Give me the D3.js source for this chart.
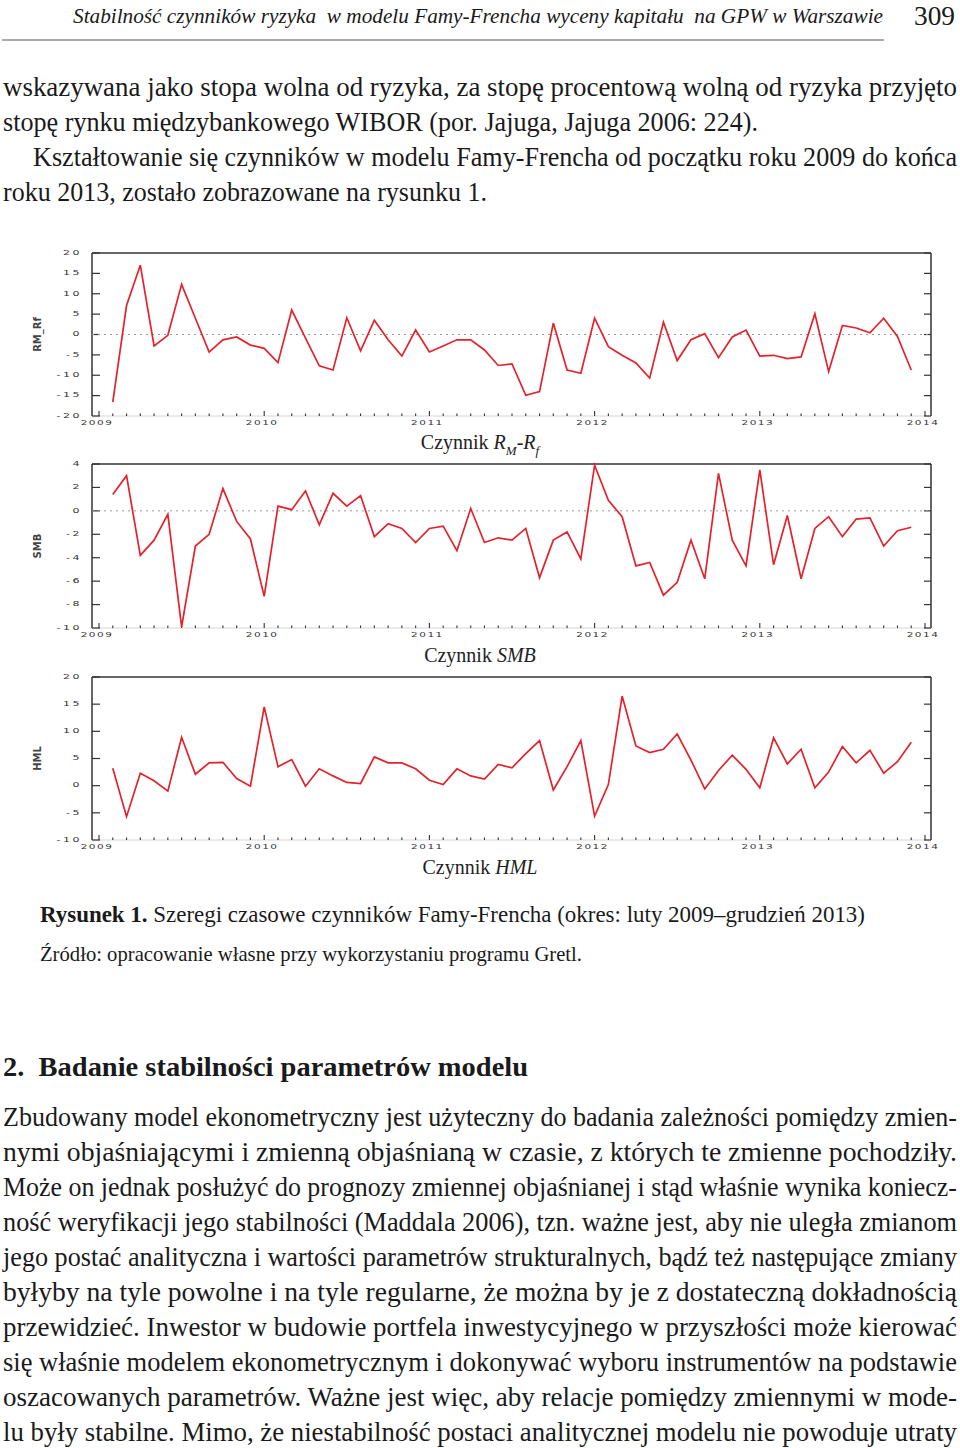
<!DOCTYPE html>
<html><head><meta charset="utf-8">
<script src="https://cdn.jsdelivr.net/npm/d3@7"></script>
<style>body{margin:0;background:#fff} svg{display:block} .serif{font-family:"Liberation Serif","Times New Roman",Times,serif}</style>
</head><body>
<script>
// ---- data (Feb 2009 – Dec 2013, monthly) ----
const startYear = 2009, startMonth = 2;
const rmrf = [
  -16.6, 7.1, 17.0, -2.8, -0.2, 12.3, 4.0, -4.3, -1.3, -0.6, -2.6,
  -3.4, -6.9, 6.0, -0.9, -7.7, -8.7, 4.1, -4.0, 3.5, -1.3, -5.3, 1.1,
  -4.3, -2.8, -1.3, -1.3, -3.8, -7.6, -7.2, -14.9, -14.0, 2.8, -8.7, -9.5,
  4.0, -3.0, -5.1, -7.0, -10.7, 3.0, -6.4, -1.3, 0.2, -5.7, -0.6, 1.1,
  -5.3, -5.1, -5.9, -5.5, 5.1, -9.1, 2.2, 1.6, 0.4, 4.0, -0.5, -8.7
];
const smb = [
  1.4, 3.0, -3.8, -2.5, -0.3, -9.9, -3.0, -2.0, 1.9, -0.9, -2.4,
  -7.3, 0.4, 0.1, 1.7, -1.2, 1.5, 0.4, 1.3, -2.2, -1.1, -1.5, -2.7,
  -1.5, -1.3, -3.4, 0.2, -2.7, -2.3, -2.5, -1.5, -5.7, -2.5, -1.8, -4.1,
  3.9, 0.9, -0.5, -4.7, -4.4, -7.2, -6.1, -2.5, -5.8, 3.2, -2.5, -4.7,
  3.5, -4.6, -0.4, -5.8, -1.5, -0.5, -2.2, -0.7, -0.6, -3.0, -1.7, -1.4
];
const hml = [
  3.2, -5.7, 2.3, 0.9, -1.0, 8.9, 2.1, 4.2, 4.3, 1.3, -0.1,
  14.5, 3.5, 4.8, -0.1, 3.1, 1.8, 0.6, 0.4, 5.3, 4.2, 4.2, 3.1,
  1.0, 0.2, 3.1, 1.8, 1.2, 3.9, 3.3, 5.9, 8.3, -0.8, 3.5, 8.3,
  -5.6, 0.2, 16.5, 7.3, 6.1, 6.7, 9.5, 4.7, -0.6, 2.8, 5.6, 3.0,
  -0.4, 8.8, 4.0, 6.7, -0.4, 2.5, 7.2, 4.2, 6.5, 2.3, 4.4, 8.0
];
const yearTicks = [2009, 2010, 2011, 2012, 2013, 2014];
const rmrfTicks = [20, 15, 10, 5, 0, -5, -10, -15, -20];
const smbTicks = [4, 2, 0, -2, -4, -6, -8, -10];
const hmlTicks = [20, 15, 10, 5, 0, -5, -10];

const svg = d3.select("body").append("svg").attr("width", 960).attr("height", 1448);

// text line: natural-size font, stretched vertically by sy, justified to len
function txt(parts, x, y, size, len, sy) {
  const t = svg.append("text").attr("class", "serif").attr("x", 0).attr("y", 0)
    .attr("transform", `translate(${x},${y}) scale(1,${sy || 1})`)
    .attr("font-size", size).attr("fill", "#1a1a1a").attr("xml:space", "preserve");
  if (len) t.attr("textLength", len).attr("lengthAdjust", "spacingAndGlyphs");
  parts.forEach(p => {
    const s = t.append("tspan").text(typeof p === "string" ? p : p.t);
    if (typeof p !== "string") {
      if (p.b) s.attr("font-weight", "bold");
      if (p.i) s.attr("font-style", "italic");
    }
  });
  return t;
}

// ---- header ----
txt([{t: "Stabilność czynników ryzyka\u00a0 w modelu Famy-Frencha wyceny kapitału\u00a0 na GPW w Warszawie", i: true}], 73, 23, 20, 810, 1.1);
txt(["309"], 914, 25, 27, 41, 1);
svg.append("line").attr("x1", 2).attr("x2", 884).attr("y1", 40).attr("y2", 40).attr("stroke", "#555").attr("stroke-width", 1.2);

// ---- body text above ----
const L = 35;
const BODY = 24.5, SY = 1.1;
txt(["wskazywana jako stopa wolna od ryzyka, za stopę procentową wolną od ryzyka przyjęto"], 3, 96, BODY, 954, SY);
txt(["stopę rynku międzybankowego WIBOR (por. Jajuga, Jajuga 2006: 224)."], 3, 131, BODY, 755, SY);
txt(["Kształtowanie się czynników w modelu Famy-Frencha od początku roku 2009 do końca"], 33, 166, BODY, 924, SY);
txt(["roku 2013, zostało zobrazowane na rysunku 1."], 3, 201, BODY, 484, SY);

// ---- charts ----
const x = d3.scaleLinear().domain([2008.9576, 2014.0363]).range([92, 931]);
const tOf = i => startYear + (startMonth - 1 + i) / 12;

const panels = [
  {vals: rmrf, ticks: rmrfTicks, dom: [-20, 20], top: 253, bot: 416, name: "RM_Rf", zero: true},
  {vals: smb, ticks: smbTicks, dom: [-10, 4], top: 464, bot: 628, name: "SMB", zero: true},
  {vals: hml, ticks: hmlTicks, dom: [-10, 20], top: 677, bot: 840, name: "HML", zero: false}
];
const AX = "#333";
panels.forEach(p => {
  const y = d3.scaleLinear().domain(p.dom).range([p.bot, p.top]);
  const g = svg.append("g");
  g.append("line").attr("x1", 92).attr("x2", 931).attr("y1", p.top).attr("y2", p.top).attr("stroke", AX).attr("stroke-width", 1.5);
  g.append("line").attr("x1", 92).attr("x2", 92).attr("y1", p.top).attr("y2", p.bot).attr("stroke", AX).attr("stroke-width", 1.5);
  g.append("line").attr("x1", 931).attr("x2", 931).attr("y1", p.top).attr("y2", p.bot).attr("stroke", AX).attr("stroke-width", 1.5);
  g.append("line").attr("x1", 92).attr("x2", 931).attr("y1", p.bot).attr("y2", p.bot).attr("stroke", "#ccc").attr("stroke-width", 0.8);
  p.ticks.forEach(v => {
    g.append("line").attr("x1", 92).attr("x2", 100).attr("y1", y(v)).attr("y2", y(v)).attr("stroke", AX).attr("stroke-width", 1.2);
    g.append("line").attr("x1", 924).attr("x2", 931).attr("y1", y(v)).attr("y2", y(v)).attr("stroke", AX).attr("stroke-width", 1.2);
    g.append("text").attr("transform", `translate(82,${y(v)}) scale(1,0.6)`)
      .attr("text-anchor", "end").attr("dominant-baseline", "middle")
      .attr("font-family", "DejaVu Sans").attr("font-size", 11).attr("letter-spacing", 2.5)
      .attr("fill", "#333").text(v);
  });
  const minor = d3.range(0, 61).map(i => 2009 + i / 12);
  minor.forEach(t => {
    const major = Math.abs(t - Math.round(t)) < 1e-6;
    g.append("line").attr("x1", x(t)).attr("x2", x(t)).attr("y1", p.bot).attr("y2", p.bot - (major ? 5 : 2.5))
      .attr("stroke", AX).attr("stroke-width", 1.1);
  });
  yearTicks.forEach(yr => {
    g.append("text").attr("transform", `translate(${x(yr) - 2},${p.bot + 7}) scale(1,0.6)`)
      .attr("text-anchor", "middle").attr("dominant-baseline", "middle")
      .attr("font-family", "DejaVu Sans").attr("font-size", 10.5).attr("letter-spacing", 1.5)
      .attr("fill", "#333").text(yr);
  });
  if (p.zero) {
    g.append("line").attr("x1", 92).attr("x2", 931).attr("y1", y(0)).attr("y2", y(0))
      .attr("stroke", "#999").attr("stroke-width", 1).attr("stroke-dasharray", "2,4");
  }
  g.append("text").attr("transform", `translate(41,${(p.top + p.bot) / 2}) rotate(-90)`)
    .attr("text-anchor", "middle").attr("font-family", "DejaVu Sans").attr("font-size", 10)
    .attr("font-weight", "bold").attr("fill", "#444").text(p.name);
  const ln = d3.line().x((d, i) => x(tOf(i))).y(d => y(d));
  g.append("path").datum(p.vals).attr("d", ln).attr("fill", "none")
    .attr("stroke", "#e3222c").attr("stroke-width", 1.7).attr("stroke-linejoin", "miter");
});

function title(yb, parts) {
  const t = svg.append("text").attr("class", "serif").attr("x", 480).attr("y", yb).attr("text-anchor", "middle")
    .attr("font-size", 20).attr("fill", "#222");
  parts.forEach(p => {
    const s = t.append("tspan").text(p.t);
    if (p.i) s.attr("font-style", "italic");
    if (p.dy) s.attr("dy", p.dy);
    if (p.fs) s.attr("font-size", p.fs);
  });
}
title(449, [{t: "Czynnik "}, {t: "R", i: 1}, {t: "M", i: 1, dy: 6, fs: 13}, {t: "-", dy: -6}, {t: "R", i: 1}, {t: "f", i: 1, dy: 6, fs: 13}]);
title(662, [{t: "Czynnik "}, {t: "SMB", i: 1}]);
title(874, [{t: "Czynnik "}, {t: "HML", i: 1}]);

txt([{t: "Rysunek 1.", b: true}, " Szeregi czasowe czynników Famy-Frencha (okres: luty 2009–grudzień 2013)"], 40, 922, 21, 825, 1.1);
txt(["Źródło: opracowanie własne przy wykorzystaniu programu Gretl."], 40, 961, 19, 542, 1.1);

txt([{t: "2.\u00a0\u00a0Badanie stabilności parametrów modelu", b: true}], 3, 1076, 25.5, 525, 1.1);

const para = [
  "Zbudowany model ekonometryczny jest użyteczny do badania zależności pomiędzy zmien-",
  "nymi objaśniającymi i zmienną objaśnianą w czasie, z których te zmienne pochodziły.",
  "Może on jednak posłużyć do prognozy zmiennej objaśnianej i stąd właśnie wynika koniecz-",
  "ność weryfikacji jego stabilności (Maddala 2006), tzn. ważne jest, aby nie uległa zmianom",
  "jego postać analityczna i wartości parametrów strukturalnych, bądź też następujące zmiany",
  "byłyby na tyle powolne i na tyle regularne, że można by je z dostateczną dokładnością",
  "przewidzieć. Inwestor w budowie portfela inwestycyjnego w przyszłości może kierować",
  "się właśnie modelem ekonometrycznym i dokonywać wyboru instrumentów na podstawie",
  "oszacowanych parametrów. Ważne jest więc, aby relacje pomiędzy zmiennymi w mode-",
  "lu były stabilne. Mimo, że niestabilność postaci analitycznej modelu nie powoduje utraty"
];
para.forEach((s, i) => txt([s], 3, 1126 + i * L, BODY, 954, SY));
</script>
</body></html>
